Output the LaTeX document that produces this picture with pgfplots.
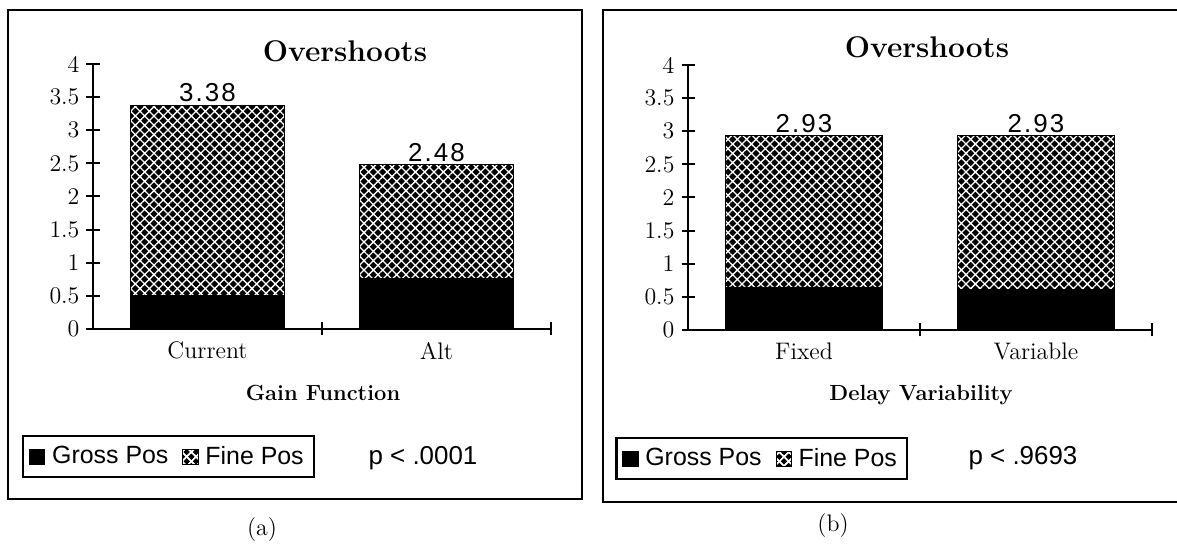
\documentclass[border=0pt]{standalone}
\usepackage{fontspec}
\usepackage{pgfplots}
\pgfplotsset{compat=1.18}
\usetikzlibrary{patterns.meta}
\newfontfamily\arial{Liberation Sans}
\newfontfamily\arialsp[LetterSpace=8]{Liberation Sans}

\pgfplotsset{
  panel/.style={
    scale only axis, anchor=south west, height=132.5bp,
    xmin=0, xmax=2, ymin=0, ymax=4,
    axis x line=bottom, axis y line=left,
    axis line style={-, line width=1bp},
    xtick={1,2}, xticklabels={,,},
    ytick={0,0.5,1,1.5,2,2.5,3,3.5,4},
    yticklabels={0,0.5,1,1.5,2,2.5,3,3.5,4},
    tick align=center, major tick length=6.5bp,
    tick style={black, line width=1bp},
    tick label style={font=\fontsize{12}{14}\selectfont},
    ybar stacked, bar width=0.675,
    extra x tick style={major tick length=0pt, tick label style={yshift=-3bp}},
    legend columns=2,
    legend style={draw=black, line width=1.2bp, anchor=north west,
      font=\arial\fontsize{12.5}{14}\selectfont, inner sep=3bp,
      /tikz/every odd column/.append style={column sep=1.5bp},
      /tikz/every even column/.append style={column sep=5bp}},
    clip=false,
  },
  gross/.style={fill=black, draw=black, line width=0.4bp,
    legend image code/.code={\fill[black] (0bp,-3.6bp) rectangle (7.6bp,3.8bp);}},
  fine/.style={fill=black, draw=black, line width=0.4bp,
    postaction={pattern={Hatch[angle=45,distance=3.3bp,line width=0.65bp]}, pattern color=white},
    legend image code/.code={\fill[black] (0bp,-3.6bp) rectangle (7.6bp,3.8bp);
      \fill[pattern={Hatch[angle=45,distance=3.3bp,line width=0.65bp]}, pattern color=white] (0bp,-3.6bp) rectangle (7.6bp,3.8bp);}},
  total/.style={draw=none, fill=none, forget plot,
    nodes near coords, point meta=explicit symbolic,
    every node near coord/.style={font=\arialsp\fontsize{13}{15}\selectfont, text=black, anchor=south, inner sep=1.5bp}},
}

\begin{document}
\begin{tikzpicture}
\useasboundingbox (0bp,0bp) rectangle (588.5bp,275bp);
\fill[white] (0bp,0bp) rectangle (588.5bp,275bp);

% panel (a)
\draw[line width=1.2bp] (4bp,270bp) rectangle (291bp,25.5bp);
\begin{axis}[panel, at={(46.5bp,110.5bp)}, width=229bp,
  extra x ticks={0.5,1.5}, extra x tick labels={Current,Alt},
  legend style={at={(axis description cs:-0.155,-0.40)}}]
\addplot[gross] coordinates {(0.5,0.51) (1.5,0.76)};
\addplot[fine] coordinates {(0.5,2.87) (1.5,1.72)};
\addplot[total] coordinates {(0.5,0.001)[3.38] (1.5,0.001)[2.48]};
\legend{Gross Pos,Fine Pos}
\end{axis}
\node[font=\fontsize{15}{17}\selectfont\bfseries] at (172.5bp,249.5bp) {Overshoots};
\node[font=\fontsize{11}{13}\selectfont\bfseries] at (161.5bp,78.5bp) {Gain Function};
\node[font=\arial\fontsize{13}{15}\selectfont] at (211.5bp,46bp) {p < .0001};
\node[font=\fontsize{12}{14}\selectfont] at (131bp,10bp) {(a)};

% panel (b)
\draw[line width=1.2bp] (301.5bp,270bp) rectangle (595bp,24bp);
\begin{axis}[panel, at={(344bp,110bp)}, width=232bp,
  extra x ticks={0.5,1.5}, extra x tick labels={Fixed,Variable},
  legend style={at={(axis description cs:-0.157,-0.404)}}]
\addplot[gross] coordinates {(0.5,0.64) (1.5,0.61)};
\addplot[fine] coordinates {(0.5,2.29) (1.5,2.32)};
\addplot[total] coordinates {(0.5,0.001)[2.93] (1.5,0.001)[2.93]};
\legend{Gross Pos,Fine Pos}
\end{axis}
\node[font=\fontsize{15}{17}\selectfont\bfseries] at (463.5bp,251.5bp) {Overshoots};
\node[font=\fontsize{11}{13}\selectfont\bfseries] at (460.5bp,77.5bp) {Delay Variability};
\node[font=\arial\fontsize{13}{15}\selectfont] at (511.5bp,46bp) {p < .9693};
\node[font=\fontsize{12}{14}\selectfont] at (416.5bp,12bp) {(b)};
\end{tikzpicture}
\end{document}
